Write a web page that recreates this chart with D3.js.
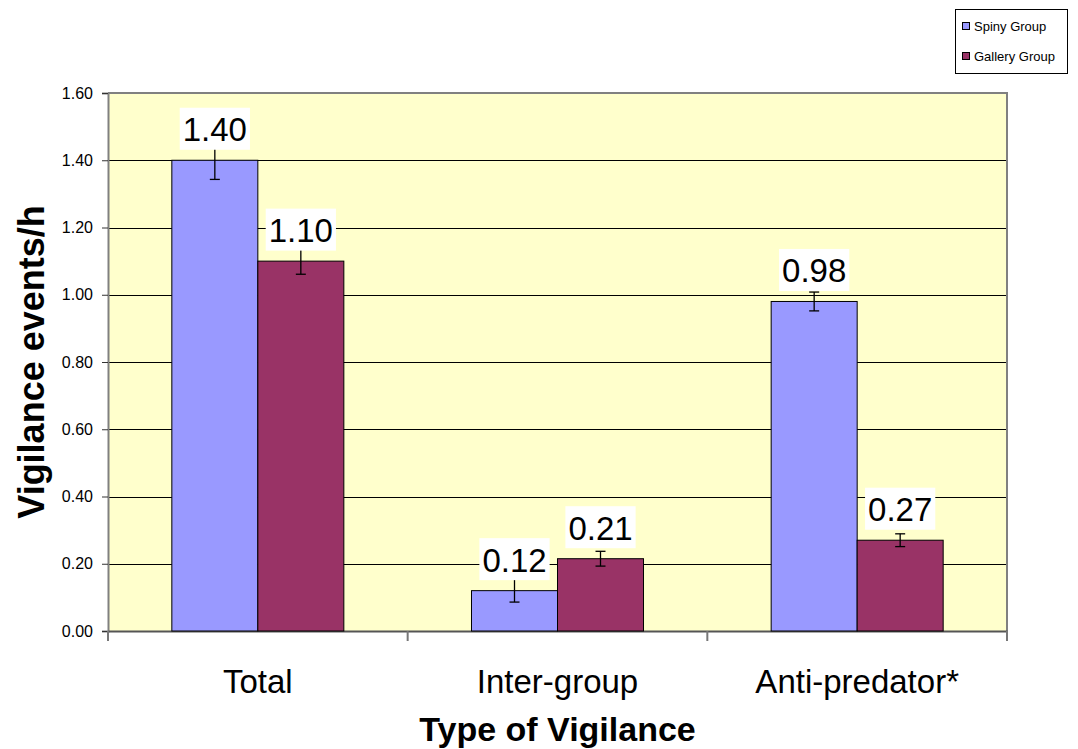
<!DOCTYPE html>
<html>
<head>
<meta charset="utf-8">
<script src="https://cdn.jsdelivr.net/npm/d3@7"></script>
<style>
  html, body { margin: 0; padding: 0; background: #fff; }
  svg { display: block; font-family: "Liberation Sans", Arial, sans-serif; }
</style>
</head>
<body>
<svg id="chart" width="1078" height="749"></svg>
<script>
const categories = ["Total", "Inter-group", "Anti-predator*"];
const seriesNames = ["Spiny Group", "Gallery Group"];
const spinyValues = [1.40, 0.12, 0.98];
const galleryValues = [1.10, 0.215, 0.27];
const spinyErrors = [0.057, 0.034, 0.028];
const galleryErrors = [0.039, 0.022, 0.019];
const valueLabels = [["1.40", "0.12", "0.98"], ["1.10", "0.21", "0.27"]];
const yTicks = [0, 0.2, 0.4, 0.6, 0.8, 1.0, 1.2, 1.4, 1.6];
const seriesColors = ["#9999FF", "#993366"];

const svg = d3.select("#chart");
const plot = { left: 108, right: 1007, top: 93, bottom: 631 };

const y = d3.scaleLinear().domain([0, 1.6]).range([plot.bottom, plot.top]);
const x0 = d3.scaleBand().domain(categories).range([plot.left, plot.right]).paddingInner(0).paddingOuter(0);
const groupW = x0.bandwidth() * 0.574;
const x1 = d3.scaleBand().domain(seriesNames).range([0, groupW]);

// plot background
svg.append("rect")
  .attr("x", plot.left).attr("y", plot.top)
  .attr("width", plot.right - plot.left).attr("height", plot.bottom - plot.top)
  .attr("fill", "#FFFFCC");

// gridlines
svg.append("g").selectAll("line")
  .data(yTicks.filter(t => t > 0 && t < 1.6))
  .join("line")
  .attr("x1", plot.left).attr("x2", plot.right)
  .attr("y1", d => Math.round(y(d)) + 0.5).attr("y2", d => Math.round(y(d)) + 0.5)
  .attr("stroke", "#000").attr("stroke-width", 1);

// plot border (top, right)
svg.append("path")
  .attr("d", `M${plot.left},${plot.top}H${plot.right}V${plot.bottom}`)
  .attr("fill", "none").attr("stroke", "#808080").attr("stroke-width", 2);

// y axis
const yAxis = d3.axisLeft(y).tickValues(yTicks).tickFormat(d3.format(".2f")).tickSize(6).tickPadding(9);
const gy = svg.append("g").attr("transform", `translate(${plot.left},0)`).call(yAxis);
gy.select(".domain").attr("stroke", "#808080").attr("stroke-width", 2);
gy.selectAll(".tick line").attr("stroke", "#333");
gy.selectAll(".tick text").attr("font-size", 16).attr("fill", "#000")
  .attr("font-family", "Liberation Sans, Arial, sans-serif");

// x axis
const gx = svg.append("g").attr("transform", `translate(0,${plot.bottom})`)
  .call(d3.axisBottom(x0).tickSize(0).tickPadding(0));
gx.select(".domain").attr("stroke", "#555").attr("stroke-width", 2);
gx.selectAll(".tick text")
  .attr("font-size", 33).attr("fill", "#000")
  .attr("font-family", "Liberation Sans, Arial, sans-serif")
  .attr("dy", null).attr("y", 62);
// category separator ticks
const bounds = categories.map(c => x0(c)).concat([plot.right]);
svg.append("g").selectAll("line").data(bounds).join("line")
  .attr("x1", d => d).attr("x2", d => d)
  .attr("y1", plot.bottom).attr("y2", plot.bottom + 10)
  .attr("stroke", "#777").attr("stroke-width", 2);

// bars
const allValues = [spinyValues, galleryValues];
const allErrors = [spinyErrors, galleryErrors];
const barData = [];
seriesNames.forEach((s, si) => {
  categories.forEach((c, ci) => {
    barData.push({
      s, si, c, v: allValues[si][ci], e: allErrors[si][ci], label: valueLabels[si][ci],
      x: x0(c) + x0.bandwidth() / 2 - groupW / 2 + x1(s)
    });
  });
});

svg.append("g").selectAll("rect").data(barData).join("rect")
  .attr("x", d => d.x).attr("y", d => y(d.v))
  .attr("width", x1.bandwidth()).attr("height", d => y(0) - y(d.v))
  .attr("fill", d => seriesColors[d.si])
  .attr("stroke", "#000").attr("stroke-width", 1);

// error bars
const eg = svg.append("g").attr("stroke", "#000").attr("stroke-width", 1.3);
barData.forEach(d => {
  const cx = d.x + x1.bandwidth() / 2;
  const yt = y(d.v + d.e), yb = y(d.v - d.e);
  eg.append("line").attr("x1", cx).attr("x2", cx).attr("y1", yt).attr("y2", yb);
  eg.append("line").attr("x1", cx - 5).attr("x2", cx + 5).attr("y1", yt).attr("y2", yt);
  eg.append("line").attr("x1", cx - 5).attr("x2", cx + 5).attr("y1", yb).attr("y2", yb);
});

// data labels
const lg = svg.append("g");
barData.forEach(d => {
  const cx = d.x + x1.bandwidth() / 2;
  const bottom = y(d.v) - 10.5;
  const t = lg.append("text").attr("x", cx).attr("y", bottom - 8.5)
    .attr("text-anchor", "middle").attr("font-size", 33).attr("fill", "#000")
    .text(d.label);
  const bb = t.node().getBBox();
  lg.insert("rect", () => t.node())
    .attr("x", cx - bb.width / 2 - 3).attr("y", bottom - 42)
    .attr("width", bb.width + 6).attr("height", 42)
    .attr("fill", "#fff");
});

// axis titles
svg.append("text")
  .attr("x", (plot.left + plot.right) / 2).attr("y", 741)
  .attr("text-anchor", "middle").attr("font-size", 34).attr("font-weight", "bold")
  .text("Type of Vigilance");
svg.append("text")
  .attr("transform", `translate(44,${(plot.top + plot.bottom) / 2}) rotate(-90)`)
  .attr("text-anchor", "middle").attr("font-size", 36).attr("font-weight", "bold")
  .text("Vigilance events/h");

// legend
const leg = svg.append("g");
leg.append("rect").attr("x", 955.5).attr("y", 9.5).attr("width", 112).attr("height", 64)
  .attr("fill", "#fff").attr("stroke", "#000").attr("stroke-width", 1);
seriesNames.forEach((s, i) => {
  const yy = 26 + i * 30;
  leg.append("rect").attr("x", 962.5).attr("y", yy - 3.5).attr("width", 7).attr("height", 7)
    .attr("fill", seriesColors[i]).attr("stroke", "#000").attr("stroke-width", 1);
  leg.append("text").attr("x", 974).attr("y", yy + 5)
    .attr("font-size", 13).attr("fill", "#000").text(s);
});
</script>
</body>
</html>
